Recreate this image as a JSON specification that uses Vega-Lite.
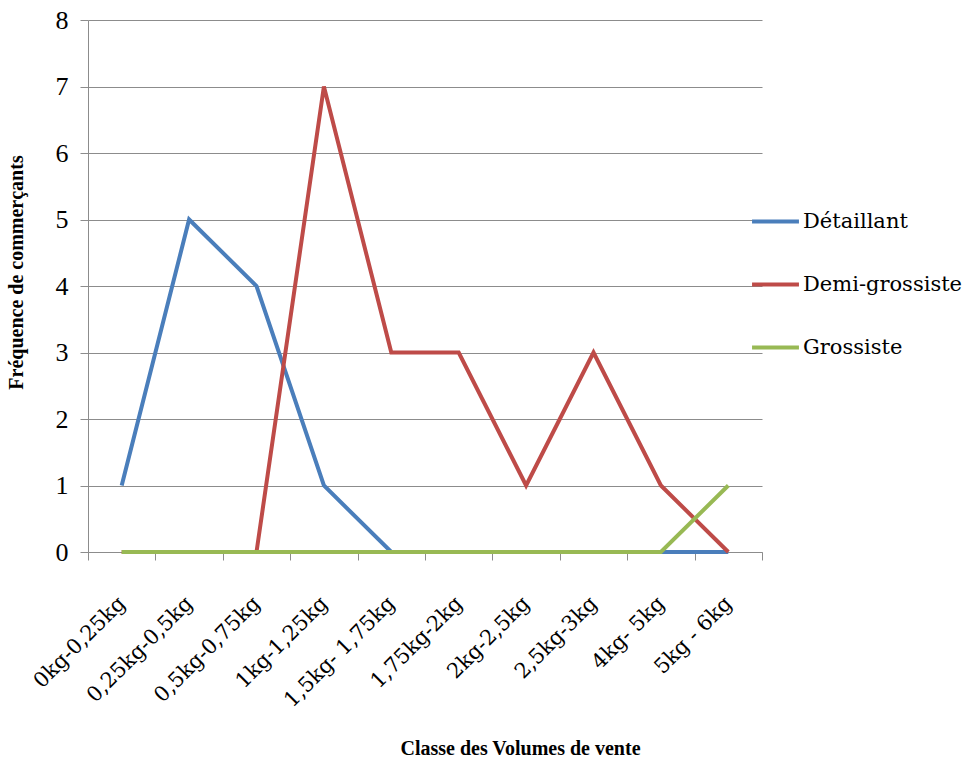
{
  "$schema": "https://vega.github.io/schema/vega-lite/v6.json",
  "width": 674,
  "height": 532,
  "autosize": {"type": "none"},
  "padding": {"left": 88, "top": 20, "right": 212, "bottom": 211},
  "background": "white",
  "config": {
    "view": {"stroke": null}
  },
  "data": {
    "values": [
      {"classe": "0kg-0,25kg", "serie": "Détaillant", "freq": 1},
      {"classe": "0,25kg-0,5kg", "serie": "Détaillant", "freq": 5},
      {"classe": "0,5kg-0,75kg", "serie": "Détaillant", "freq": 4},
      {"classe": "1kg-1,25kg", "serie": "Détaillant", "freq": 1},
      {"classe": "1,5kg- 1,75kg", "serie": "Détaillant", "freq": 0},
      {"classe": "1,75kg-2kg", "serie": "Détaillant", "freq": 0},
      {"classe": "2kg-2,5kg", "serie": "Détaillant", "freq": 0},
      {"classe": "2,5kg-3kg", "serie": "Détaillant", "freq": 0},
      {"classe": "4kg- 5kg", "serie": "Détaillant", "freq": 0},
      {"classe": "5kg - 6kg", "serie": "Détaillant", "freq": 0},
      {"classe": "0kg-0,25kg", "serie": "Demi-grossiste", "freq": 0},
      {"classe": "0,25kg-0,5kg", "serie": "Demi-grossiste", "freq": 0},
      {"classe": "0,5kg-0,75kg", "serie": "Demi-grossiste", "freq": 0},
      {"classe": "1kg-1,25kg", "serie": "Demi-grossiste", "freq": 7},
      {"classe": "1,5kg- 1,75kg", "serie": "Demi-grossiste", "freq": 3},
      {"classe": "1,75kg-2kg", "serie": "Demi-grossiste", "freq": 3},
      {"classe": "2kg-2,5kg", "serie": "Demi-grossiste", "freq": 1},
      {"classe": "2,5kg-3kg", "serie": "Demi-grossiste", "freq": 3},
      {"classe": "4kg- 5kg", "serie": "Demi-grossiste", "freq": 1},
      {"classe": "5kg - 6kg", "serie": "Demi-grossiste", "freq": 0},
      {"classe": "0kg-0,25kg", "serie": "Grossiste", "freq": 0},
      {"classe": "0,25kg-0,5kg", "serie": "Grossiste", "freq": 0},
      {"classe": "0,5kg-0,75kg", "serie": "Grossiste", "freq": 0},
      {"classe": "1kg-1,25kg", "serie": "Grossiste", "freq": 0},
      {"classe": "1,5kg- 1,75kg", "serie": "Grossiste", "freq": 0},
      {"classe": "1,75kg-2kg", "serie": "Grossiste", "freq": 0},
      {"classe": "2kg-2,5kg", "serie": "Grossiste", "freq": 0},
      {"classe": "2,5kg-3kg", "serie": "Grossiste", "freq": 0},
      {"classe": "4kg- 5kg", "serie": "Grossiste", "freq": 0},
      {"classe": "5kg - 6kg", "serie": "Grossiste", "freq": 1}
    ]
  },
  "mark": {"type": "line", "strokeWidth": 4},
  "encoding": {
    "x": {
      "field": "classe",
      "type": "ordinal",
      "sort": null,
      "scale": {"type": "band", "paddingInner": 0, "paddingOuter": 0},
      "axis": {
        "title": "Classe des Volumes de vente",
        "titleFont": "Liberation Serif",
        "titleFontSize": 20,
        "titleFontWeight": "bold",
        "titleColor": "black",
        "titleX": 432,
        "titleY": 186,
        "titleBaseline": "top",
        "labelFont": "DejaVu Serif",
        "labelAngle": -45,
        "labelAlign": "right",
        "labelBaseline": "middle",
        "labelFontSize": 21,
        "labelColor": "black",
        "labelPadding": 40,
        "labelOverlap": false,
        "tickBand": "extent",
        "domainColor": "#8c8c8c",
        "tickColor": "#8c8c8c",
        "tickSize": 8,
        "grid": false
      }
    },
    "y": {
      "field": "freq",
      "type": "quantitative",
      "scale": {"domain": [0, 8]},
      "axis": {
        "title": "Fréquence de commerçants",
        "titleFont": "Liberation Serif",
        "titleFontSize": 20,
        "titleFontWeight": "bold",
        "titleColor": "black",
        "titleY": 252,
        "titleX": -62,
        "values": [0, 1, 2, 3, 4, 5, 6, 7, 8],
        "labelFont": "Liberation Serif",
        "labelFontWeight": 500,
        "labelOverlap": false,
        "labelFontSize": 26,
        "labelColor": "black",
        "labelPadding": 12,
        "domainColor": "#8c8c8c",
        "tickColor": "#8c8c8c",
        "tickSize": 8,
        "gridColor": "#8c8c8c",
        "gridWidth": 1
      }
    },
    "color": {
      "field": "serie",
      "type": "nominal",
      "sort": ["Détaillant", "Demi-grossiste", "Grossiste"],
      "scale": {"domain": ["Détaillant", "Demi-grossiste", "Grossiste"], "range": ["#4a7ebb", "#be4b48", "#98b954"]},
      "legend": {
        "title": null,
        "orient": "none",
        "legendX": 662,
        "legendY": 176,
        "symbolType": "stroke",
        "symbolSize": 2200,
        "symbolStrokeWidth": 4,
        "labelFont": "DejaVu Serif",
        "labelFontSize": 21,
        "labelLimit": 400,
        "labelColor": "black",
        "rowPadding": 27,
        "labelOffset": 2
      }
    },
    "order": {"field": "serie"}
  }
}
